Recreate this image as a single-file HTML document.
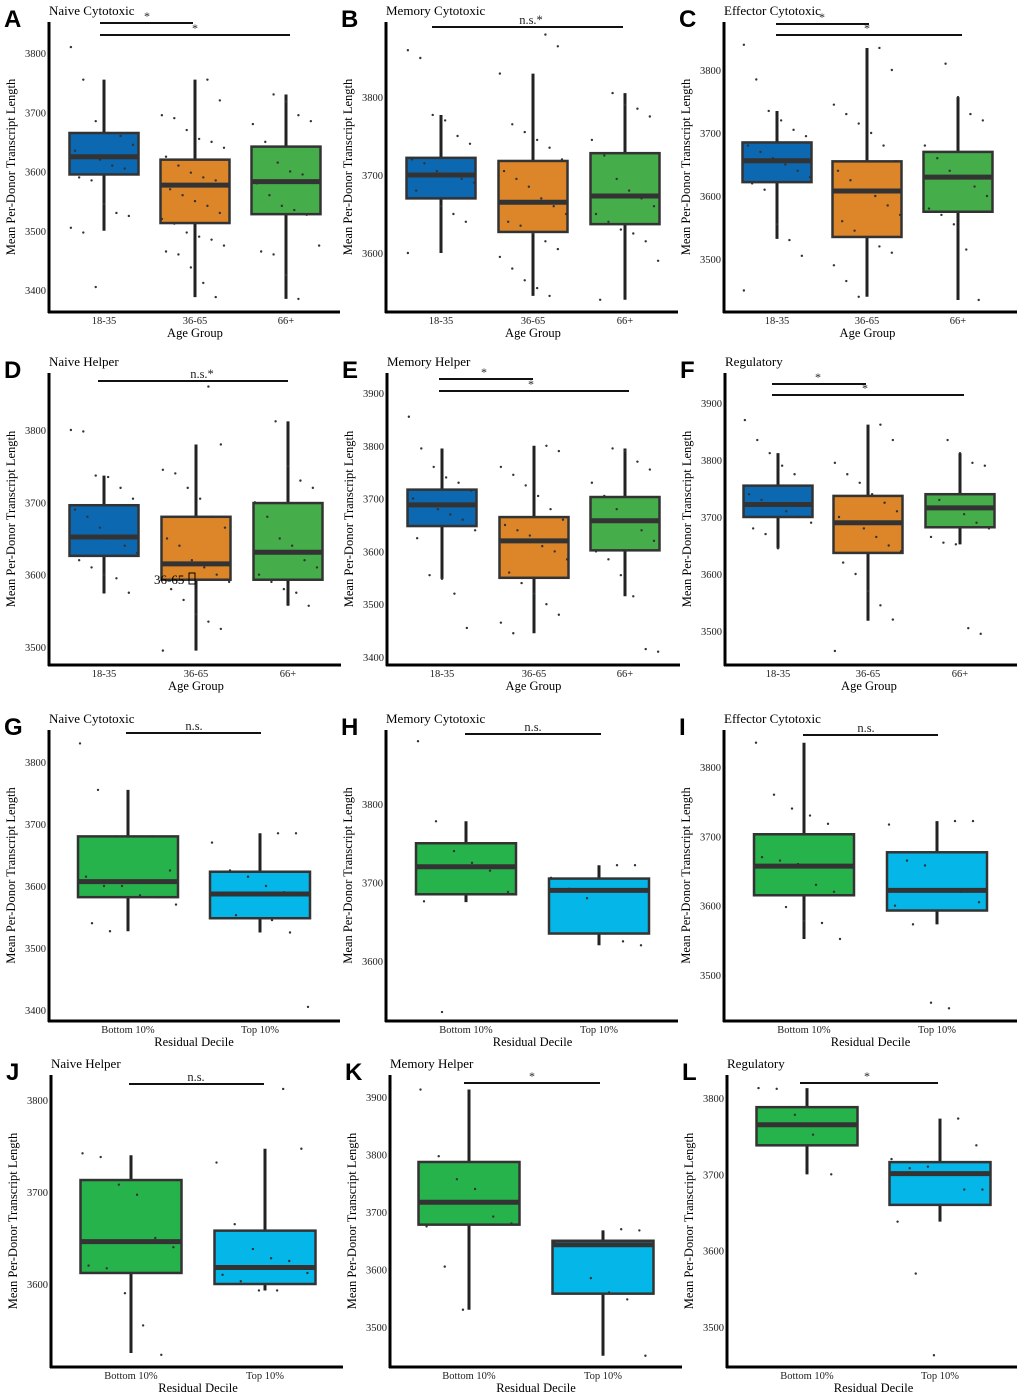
<!DOCTYPE html>
<html><head><meta charset="utf-8"><style>
html,body{margin:0;padding:0;background:#fff;}
svg text{font-family:"Liberation Serif",serif;}
.letter{font-family:"Liberation Sans",sans-serif !important;font-weight:bold;font-size:24px;}
</style></head><body>
<svg id="fig" width="1020" height="1395" viewBox="0 0 1020 1395" xmlns="http://www.w3.org/2000/svg">
<rect width="1020" height="1395" fill="#fff"/>
</svg>
<script>
// ---- data ----
const ageCats = ["18-35","36-65","66+"];
const decCats = ["Bottom 10%","Top 10%"];
const ticksA=[3400,3500,3600,3700,3800], ticksB=[3600,3700,3800], ticksC=[3500,3600,3700,3800];
const ticksD=[3500,3600,3700,3800], ticksE=[3400,3500,3600,3700,3800,3900], ticksF=[3500,3600,3700,3800,3900];
const ticksG=[3400,3500,3600,3700,3800], ticksH=[3600,3700,3800], ticksI=[3500,3600,3700,3800];
const ticksJ=[3600,3700,3800], ticksK=[3500,3600,3700,3800,3900], ticksL=[3500,3600,3700,3800];
// box stats: [whiskerLo, q1, median, q3, whiskerHi]
const statsA=[[3500,3595,3625,3665,3755],[3388,3513,3577,3620,3755],[3385,3528,3583,3642,3730]];
const statsB=[[3600,3670,3700,3722,3777],[3545,3627,3665,3718,3830],[3540,3637,3673,3728,3805]];
const statsC=[[3532,3622,3656,3685,3735],[3440,3535,3608,3655,3835],[3435,3575,3630,3670,3757]];
const statsD=[[3574,3626,3652,3696,3737],[3495,3593,3615,3680,3780],[3557,3593,3631,3699,3812]];
const statsE=[[3548,3648,3688,3717,3795],[3445,3550,3620,3665,3800],[3515,3602,3658,3703,3795]];
const statsF=[[3645,3700,3722,3755,3812],[3518,3637,3690,3737,3862],[3652,3682,3716,3740,3812]];
const statsG=[[3527,3582,3607,3680,3755],[3525,3548,3587,3623,3685]];
const statsH=[[3675,3685,3720,3750,3778],[3620,3635,3690,3705,3722]];
const statsI=[[3552,3615,3657,3703,3835],[3573,3593,3622,3677,3722]];
const statsJ=[[3525,3612,3646,3713,3740],[3593,3600,3618,3658,3747]];
const statsK=[[3530,3678,3717,3787,3913],[3450,3558,3643,3650,3668]];
const statsL=[[3700,3738,3765,3788,3813],[3638,3660,3701,3716,3773]];
// points
const pointsA=[[3810,3755,3685,3665,3660,3645,3635,3625,3620,3610,3605,3595,3590,3585,3545,3530,3525,3505,3497,3405],
 [3755,3720,3695,3690,3670,3655,3650,3640,3625,3610,3598,3590,3585,3575,3570,3560,3550,3542,3530,3520,3512,3497,3490,3485,3475,3465,3460,3438,3412,3388],
 [3730,3718,3695,3685,3680,3650,3615,3600,3595,3585,3580,3560,3542,3535,3527,3475,3465,3460,3425,3385]];
const pointsB=[[3860,3850,3777,3770,3750,3740,3720,3715,3705,3700,3695,3690,3680,3670,3660,3650,3640,3600],
 [3880,3865,3830,3765,3755,3745,3735,3720,3705,3695,3685,3670,3660,3650,3640,3635,3625,3615,3605,3595,3580,3565,3555,3545],
 [3805,3790,3785,3775,3745,3725,3695,3680,3670,3660,3650,3640,3630,3625,3615,3590,3540]];
const pointsC=[[3840,3785,3735,3720,3705,3695,3680,3670,3660,3650,3640,3630,3620,3610,3555,3530,3505,3450],
 [3835,3800,3745,3730,3715,3700,3680,3655,3640,3625,3610,3600,3585,3570,3560,3545,3535,3520,3510,3490,3465,3440],
 [3810,3757,3730,3720,3680,3660,3640,3630,3615,3600,3580,3570,3555,3515,3435]];
const pointsD=[[3800,3798,3737,3735,3720,3705,3690,3680,3665,3650,3640,3630,3620,3610,3600,3595,3575],
 [3860,3780,3745,3740,3720,3705,3680,3665,3650,3640,3620,3610,3600,3590,3580,3565,3545,3535,3525,3495],
 [3812,3750,3730,3720,3700,3680,3650,3640,3620,3610,3600,3590,3580,3575,3557]];
const pointsE=[[3855,3795,3760,3740,3730,3715,3700,3690,3680,3670,3660,3640,3625,3555,3548,3520,3455],
 [3800,3790,3760,3745,3725,3705,3680,3660,3650,3640,3630,3610,3600,3585,3560,3540,3520,3500,3480,3465,3445],
 [3795,3790,3770,3755,3730,3705,3680,3660,3640,3620,3600,3585,3555,3515,3415,3410]];
const pointsF=[[3870,3835,3812,3790,3775,3755,3740,3730,3720,3710,3700,3690,3680,3670,3645],
 [3862,3835,3795,3775,3760,3740,3725,3710,3700,3690,3680,3665,3650,3640,3620,3600,3570,3545,3520,3465],
 [3835,3812,3795,3790,3740,3730,3715,3705,3690,3680,3665,3655,3652,3505,3495]];
const pointsG=[[3830,3755,3680,3680,3680,3625,3615,3600,3600,3585,3582,3570,3540,3527],
 [3685,3685,3670,3625,3615,3600,3590,3588,3586,3553,3548,3545,3525,3405]];
const pointsH=[[3880,3778,3740,3725,3715,3688,3676,3535],
 [3722,3722,3706,3692,3680,3635,3625,3620]];
const pointsI=[[3835,3760,3740,3730,3718,3703,3670,3665,3660,3630,3620,3615,3615,3598,3578,3575,3552],
 [3722,3722,3717,3665,3658,3622,3620,3605,3600,3573,3460,3452]];
const pointsJ=[[3742,3738,3708,3697,3650,3640,3620,3617,3590,3555,3523],
 [3812,3747,3732,3665,3638,3628,3625,3612,3610,3603,3593,3593]];
const pointsK=[[3913,3797,3757,3740,3692,3680,3675,3605,3530],
 [3670,3668,3648,3645,3585,3560,3548,3450]];
const pointsL=[[3813,3812,3778,3752,3700],
 [3773,3738,3720,3708,3710,3700,3680,3680,3638,3570,3463]];

const C1=["#0b68b1","#dd8629","#45ad4a"], C2=["#27b34c","#05b7e8"];
// layout: [letter,title,axisX,axisTop,axisBottom,axisRight,v1,p1,v2,p2,centers,boxW,sig]
const panels=[
 {L:"A",t:"Naive Cytotoxic",ax:49,top:22,bot:312,right:340,s:[3800,53,3400,290],cx:[104,195,286],bw:69,ticks:ticksA,stats:statsA,pts:pointsA,cats:ageCats,cols:C1,xt:"Age Group",
  sig:[[100,193,23,"*",147],[100,290,35,"*",195]]},
 {L:"B",t:"Memory Cytotoxic",ax:386,top:22,bot:312,right:678,s:[3800,97,3600,253],cx:[441,533,625],bw:69,ticks:ticksB,stats:statsB,pts:pointsB,cats:ageCats,cols:C1,xt:"Age Group",
  sig:[[432,623,27,"n.s.*",531]]},
 {L:"C",t:"Effector Cytotoxic",ax:724,top:22,bot:312,right:1017,s:[3800,70,3500,259],cx:[777,867,958],bw:69,ticks:ticksC,stats:statsC,pts:pointsC,cats:ageCats,cols:C1,xt:"Age Group",
  sig:[[776,869,24,"*",822],[776,962,35,"*",867]]},
 {L:"D",t:"Naive Helper",ax:49,top:373,bot:665,right:341,s:[3800,430,3500,647],cx:[104,196,288],bw:69,ticks:ticksD,stats:statsD,pts:pointsD,cats:ageCats,cols:C1,xt:"Age Group",
  sig:[[98,288,381,"n.s.*",202]]},
 {L:"E",t:"Memory Helper",ax:387,top:373,bot:665,right:680,s:[3900,393,3400,657],cx:[442,534,625],bw:69,ticks:ticksE,stats:statsE,pts:pointsE,cats:ageCats,cols:C1,xt:"Age Group",
  sig:[[439,533,379,"*",484],[439,629,391,"*",531]]},
 {L:"F",t:"Regulatory",ax:725,top:373,bot:665,right:1017,s:[3900,403,3500,631],cx:[778,868,960],bw:69,ticks:ticksF,stats:statsF,pts:pointsF,cats:ageCats,cols:C1,xt:"Age Group",
  sig:[[772,866,384,"*",818],[772,964,395,"*",865]]},
 {L:"G",t:"Naive Cytotoxic",ax:49,top:730,bot:1021,right:340,s:[3800,762,3400,1010],cx:[128,260],bw:100,ticks:ticksG,stats:statsG,pts:pointsG,cats:decCats,cols:C2,xt:"Residual Decile",
  sig:[[126,261,733,"n.s.",194]]},
 {L:"H",t:"Memory Cytotoxic",ax:386,top:730,bot:1021,right:678,s:[3800,804,3600,961],cx:[466,599],bw:100,ticks:ticksH,stats:statsH,pts:pointsH,cats:decCats,cols:C2,xt:"Residual Decile",
  sig:[[465,601,734,"n.s.",533]]},
 {L:"I",t:"Effector Cytotoxic",ax:724,top:730,bot:1021,right:1017,s:[3800,767,3500,975],cx:[804,937],bw:100,ticks:ticksI,stats:statsI,pts:pointsI,cats:decCats,cols:C2,xt:"Residual Decile",
  sig:[[803,938,735,"n.s.",866]]},
 {L:"J",t:"Naive Helper",ax:51,top:1075,bot:1367,right:343,s:[3800,1100,3600,1284],cx:[131,265],bw:101,ticks:ticksJ,stats:statsJ,pts:pointsJ,cats:decCats,cols:C2,xt:"Residual Decile",
  sig:[[129,264,1084,"n.s.",196]]},
 {L:"K",t:"Memory Helper",ax:390,top:1075,bot:1367,right:682,s:[3900,1097,3500,1327],cx:[469,603],bw:101,ticks:ticksK,stats:statsK,pts:pointsK,cats:decCats,cols:C2,xt:"Residual Decile",
  sig:[[464,600,1083,"*",532]]},
 {L:"L",t:"Regulatory",ax:727,top:1075,bot:1367,right:1017,s:[3800,1098,3500,1327],cx:[807,940],bw:101,ticks:ticksL,stats:statsL,pts:pointsL,cats:decCats,cols:C2,xt:"Residual Decile",
  sig:[[800,938,1083,"*",867]]}
];
const NS="http://www.w3.org/2000/svg";
const svg=document.getElementById("fig");
function mk(tag,attrs,parent,txt){const e=document.createElementNS(NS,tag);for(const k in attrs)e.setAttribute(k,attrs[k]);if(txt!==undefined)e.textContent=txt;(parent||svg).appendChild(e);return e;}
panels.forEach(function(p){
  const g=mk("g",{});
  
  
  const y=function(v){return p.s[1]+(v-p.s[0])*(p.s[3]-p.s[1])/(p.s[2]-p.s[0]);};
  const lt=mk("text",{x:p.ax-45,y:p.top+5,"class":"letter",fill:"#000"},g,p.L);
  
  
  const tt=mk("text",{x:p.ax,y:p.top-7,"font-size":"13",fill:"#000"},g,p.t);
  
  
  // ticks
  p.ticks.forEach(function(v){
    const t=mk("text",{x:p.ax-3,y:y(v)+4,"font-size":"10.5","text-anchor":"end",fill:"#222"},g,String(v));
    
    
  });
  const yc=(p.top+p.bot)/2;
  const yt=mk("text",{x:p.ax-34,y:yc,"font-size":"12.5","text-anchor":"middle",transform:"rotate(-90 "+(p.ax-34)+" "+yc+")",fill:"#000"},g,"Mean Per-Donor Transcript Length");
  
  
  // boxes
  p.stats.forEach(function(st,i){
    const cx=p.cx[i],w=p.bw;
    const bg=mk("g",{},g);
    
    
    mk("line",{x1:cx,x2:cx,y1:y(st[0]),y2:y(st[4]),stroke:"#222","stroke-width":"3"},bg);
    mk("rect",{x:cx-w/2,y:y(st[3]),width:w,height:y(st[1])-y(st[3]),fill:p.cols[i],stroke:"#333","stroke-width":"2.5"},bg);
    mk("line",{x1:cx-w/2,x2:cx+w/2,y1:y(st[2]),y2:y(st[2]),stroke:"#333","stroke-width":"5"},bg);
    p.pts[i].forEach(function(v,j){
      const off=(((j*37+i*11)%17)-8)/8*w*0.48;
      const d=mk("circle",{cx:cx+off,cy:y(v),r:"1.2",fill:"#333"},bg);
      
      
    });
    const xl=mk("text",{x:cx,y:p.bot+12,"font-size":"10.5","text-anchor":"middle",fill:"#222"},g,p.cats[i]);
    
    
  });
  // axes
  const ya=mk("line",{x1:p.ax,x2:p.ax,y1:p.top,y2:p.bot+1,stroke:"#000","stroke-width":"3"},g);
  
  
  const xa=mk("line",{x1:p.ax-1,x2:p.right,y1:p.bot,y2:p.bot,stroke:"#000","stroke-width":"3"},g);
  
  
  const xm=(p.cx[0]+p.cx[p.cx.length-1])/2;
  const xt=mk("text",{x:xm,y:p.bot+25,"font-size":"12.5","text-anchor":"middle",fill:"#000"},g,p.xt);
  
  
  // significance bars
  p.sig.forEach(function(s){
    const l=mk("line",{x1:s[0],x2:s[1],y1:s[2],y2:s[2],stroke:"#111","stroke-width":"2"},g);
    
    
    const st=mk("text",{x:s[4],y:s[2]-3,"font-size":s[3]==="*"?"12":"12.5","text-anchor":"middle",fill:"#222","font-family":"Liberation Sans, sans-serif"},g,s[3]);
    
    
  });
});
// artifact label in panel D
const art=mk("text",{x:154,y:584,"font-size":"13","font-family":"Liberation Sans, sans-serif",fill:"#000"},svg,"36-65");


mk("rect",{x:189,y:573,width:6,height:11,fill:"none",stroke:"#000","stroke-width":"1"});
</script>
</body></html>
